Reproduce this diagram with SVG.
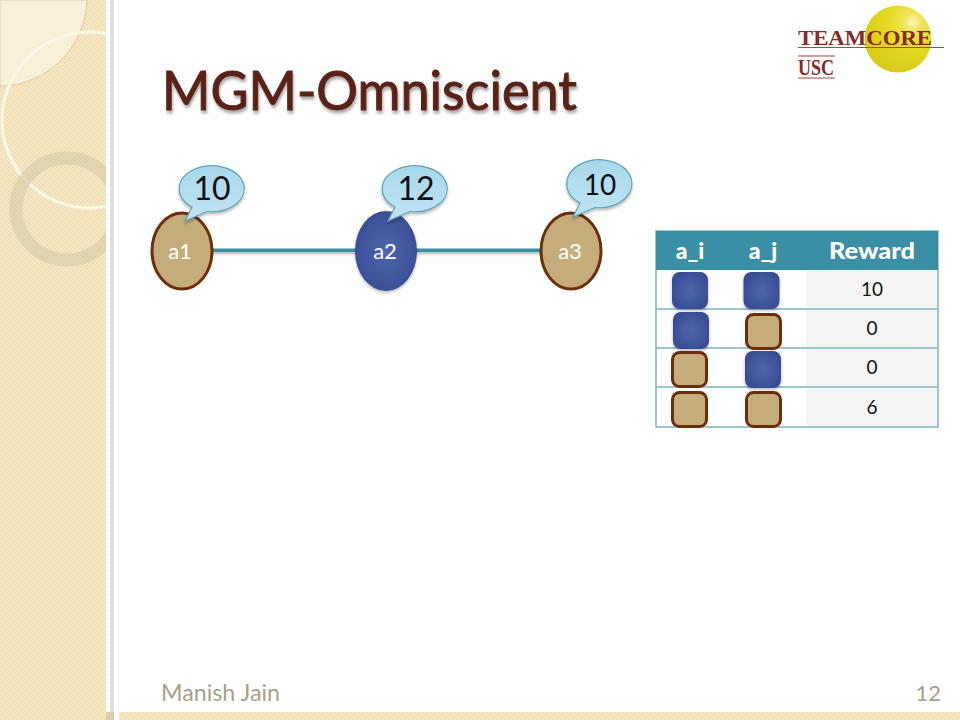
<svg xmlns="http://www.w3.org/2000/svg" width="960" height="720" viewBox="0 0 960 720">
<style>
text{font-family:"Lato","Noto Sans",sans-serif}
.tan{fill:#c5ad7b;stroke:#6b2d0a;stroke-width:3}
.blue{fill:url(#blueGrad);filter:url(#soft)}
.bub{fill:url(#bubGrad);stroke:#5da3b8;stroke-width:1.2;filter:url(#shadow)}
.nl{fill:#fff;font-size:22px;text-anchor:middle}
.bt{fill:#111;font-size:32px;text-anchor:middle}
.hd{fill:#fff;font-size:23px;font-weight:900;text-anchor:middle}
.cell{fill:#111;font-size:19px;text-anchor:middle}
.rule{stroke:#7fb5c2;stroke-width:1.5}
.edge{fill:#3a8fa5;filter:url(#shadow)}
.ring{fill:none}
.logo{font-family:"Liberation Serif",serif;font-weight:700;fill:#852a2a}
.lr{stroke:#a14a4a;stroke-width:1.2}
</style>
<defs>
<pattern id="check" width="4" height="4" patternUnits="userSpaceOnUse">
<rect width="4" height="4" fill="#f1dfb4"/>
<rect width="2" height="2" fill="#f6e8c6"/>
<rect x="2" y="2" width="2" height="2" fill="#f6e8c6"/>
</pattern>
<radialGradient id="blueGrad" cx="50%" cy="50%" r="60%">
<stop offset="0" stop-color="#4f66ad"/>
<stop offset="1" stop-color="#364a92"/>
</radialGradient>
<linearGradient id="bubGrad" x1="0" y1="0" x2="0" y2="1">
<stop offset="0" stop-color="#a8d8ec"/>
<stop offset="1" stop-color="#bfe4f3"/>
</linearGradient>
<radialGradient id="sun" cx="72%" cy="25%" r="75%">
<stop offset="0" stop-color="#fbf6c0"/>
<stop offset="0.18" stop-color="#eee65a"/>
<stop offset="0.5" stop-color="#e6da22"/>
<stop offset="1" stop-color="#d8cc18"/>
</radialGradient>
<filter id="shadow" filterUnits="userSpaceOnUse" x="0" y="0" width="960" height="720">
<feDropShadow dx="0" dy="2" stdDeviation="1.5" flood-color="#000" flood-opacity="0.3"/>
</filter>
<filter id="soft" x="-20%" y="-20%" width="140%" height="140%">
<feDropShadow dx="0" dy="1.5" stdDeviation="1.5" flood-color="#000" flood-opacity="0.3"/>
</filter>
<filter id="title" x="-5%" y="-20%" width="110%" height="150%">
<feDropShadow dx="1" dy="3" stdDeviation="1.5" flood-color="#000" flood-opacity="0.35"/>
</filter>
<clipPath id="side"><rect width="106" height="720"/></clipPath>
</defs>
<rect width="960" height="720" fill="#fff"/>
<g id="sidebar">
<rect width="106" height="720" fill="url(#check)"/>
<rect x="106" width="4" height="720" fill="#fff"/>
<rect x="110" width="4" height="720" fill="#dfdfe3"/>
<rect x="106" y="712" width="8" height="8" fill="#d8cdb0"/>
<rect x="119" y="712" width="841" height="8" fill="url(#check)"/>
<g clip-path="url(#side)">
<path d="M0 0H87C85 50 45 86 0 86Z" fill="#fbf3e0" fill-opacity="0.8" stroke="#d9cba6" stroke-width="1"/>
<circle cx="90" cy="120" r="88" class="ring" stroke="#fdf8e6" stroke-width="3"/>
<circle cx="67" cy="209" r="51" class="ring" stroke="#d8cba8" stroke-opacity="0.65" stroke-width="13"/>
</g>
</g>
<g id="logo">
<circle cx="898" cy="39" r="33.500" fill="url(#sun)"/>
<text class="logo" x="798" y="45" textLength="134" lengthAdjust="spacingAndGlyphs" font-size="21">TEAMCORE</text>
<line class="lr" x1="798" y1="47.500" x2="944" y2="47.500"/>
<line class="lr" x1="798" y1="56" x2="835" y2="56"/>
<text class="logo" x="798" y="74.500" textLength="36" lengthAdjust="spacingAndGlyphs" font-size="23">USC</text>
<line class="lr" x1="798" y1="78" x2="835" y2="78"/>
</g>
<text id="title-text" x="162" y="110" textLength="415" lengthAdjust="spacingAndGlyphs" style="font-size:54px;fill:#5a2318;stroke:#5a2318;stroke-width:1;filter:url(#title)">MGM-Omniscient</text>
<g id="connectors">
<rect class="edge" x="212" y="248.500" width="144" height="3.500"/>
<rect class="edge" x="416" y="248.500" width="125" height="3.500"/>
</g>
<g id="a1">
<ellipse class="tan" cx="182" cy="251" rx="30" ry="38"/>
<text class="nl" x="180" y="259">a1</text>
</g>
<g id="a2">
<ellipse class="blue" cx="386" cy="251" rx="31" ry="40"/>
<text class="nl" x="385" y="259">a2</text>
</g>
<g id="a3">
<ellipse class="tan" cx="571" cy="251" rx="30" ry="38"/>
<text class="nl" x="570" y="259">a3</text>
</g>
<g id="callout1">
<path class="bub" d="M185 221L192 207A32.500 23 0 1 1 207 211.500Z"/>
<text class="bt" x="212" y="200">10</text>
</g>
<g id="callout2">
<path class="bub" d="M388 221L395 207A32.500 23 0 1 1 410 211.500Z"/>
<text class="bt" x="416" y="200">12</text>
</g>
<g id="callout3">
<path class="bub" d="M573 217L580 203A32.500 24 0 1 1 595 207.500Z"/>
<text class="bt" x="600" y="195" style="font-size:28px">10</text>
</g>
<g id="table">
<rect x="806" y="270" width="132" height="157" fill="#f5f5f5"/>
<line class="rule" x1="656" y1="309" x2="938" y2="309"/>
<line class="rule" x1="656" y1="348" x2="938" y2="348"/>
<line class="rule" x1="656" y1="387" x2="938" y2="387"/>
<rect x="656" y="231" width="282" height="196" fill="none" stroke="#7fb5c2" stroke-width="1.500"/>
<rect x="656" y="231" width="282" height="39" fill="#3a8fa5"/>
<text class="hd" x="690" y="259">a_i</text>
<text class="hd" x="763" y="259">a_j</text>
<text class="hd" x="872" y="259" textLength="86" lengthAdjust="spacingAndGlyphs">Reward</text>
<text class="cell" x="872" y="296">10</text>
<text class="cell" x="872" y="335">0</text>
<text class="cell" x="872" y="374">0</text>
<text class="cell" x="872" y="414">6</text>
</g>
<g id="cell-r1-i"><rect class="blue" x="672" y="272" width="36" height="37" rx="8"/></g>
<g id="cell-r1-j"><rect class="blue" x="743.500" y="272" width="36" height="37" rx="8"/></g>
<g id="cell-r2-i"><rect class="blue" x="673" y="312" width="36" height="37" rx="8"/></g>
<g id="cell-r2-j"><rect class="tan" x="746.500" y="314.500" width="34" height="34" rx="7"/></g>
<g id="cell-r3-i"><rect class="tan" x="672.500" y="352.500" width="34" height="34" rx="7"/></g>
<g id="cell-r3-j"><rect class="blue" x="745" y="351" width="36" height="37" rx="8"/></g>
<g id="cell-r4-i"><rect class="tan" x="672.500" y="392.500" width="34" height="34" rx="7"/></g>
<g id="cell-r4-j"><rect class="tan" x="746.500" y="392.500" width="34" height="34" rx="7"/></g>
<text id="footer" x="161" y="701" textLength="119" lengthAdjust="spacingAndGlyphs" style="font-size:24px;fill:#a89f8a">Manish Jain</text>
<text id="page" x="941" y="701" text-anchor="end" style="font-size:22px;fill:#a89f8a">12</text>
</svg>
